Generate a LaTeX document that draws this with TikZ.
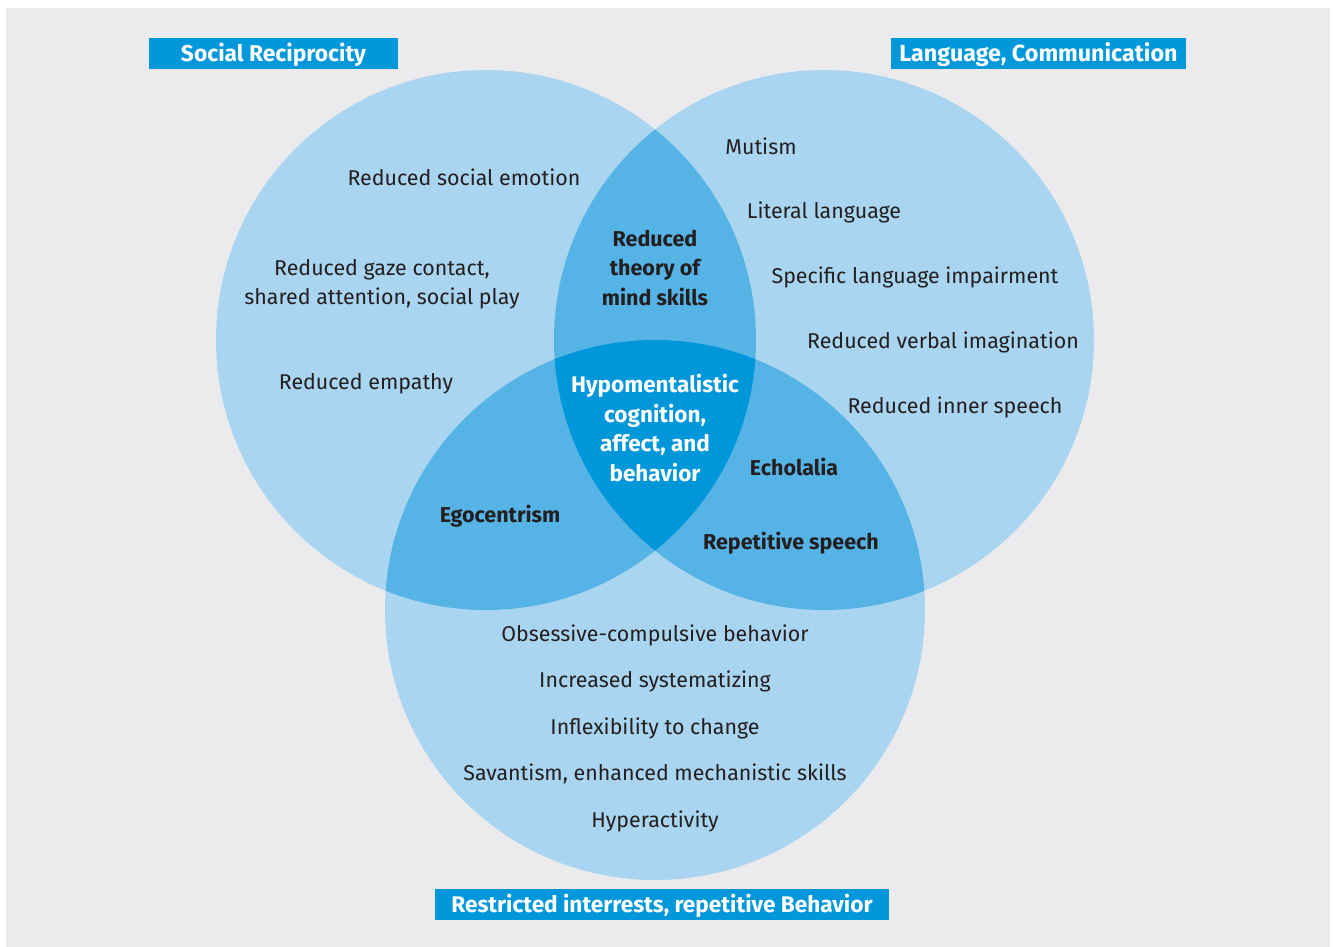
\documentclass[tikz,border=0pt]{standalone}
\usepackage{fontspec}
\setmainfont{Fira Sans}
\definecolor{bggray}{HTML}{EBEBED}
\definecolor{light}{HTML}{A9D5F0}
\definecolor{mid}{HTML}{55B3E6}
\definecolor{dark}{HTML}{0096DA}
\definecolor{boxblue}{HTML}{0098DB}
\definecolor{txt}{HTML}{231F20}
\tikzset{
  body/.style={text=txt, align=center, font=\fontsize{21.4}{29}\selectfont, inner sep=0pt},
  bold/.style={body, font=\fontsize{21.5}{29.4}\selectfont\bfseries},
  whitebold/.style={bold, text=white},
  tag/.style={fill=boxblue, text=white, font=\fontsize{22.8}{26}\selectfont\bfseries, inner sep=0pt, text height=23.5pt, text depth=7.5pt}
}
\begin{document}
\begin{tikzpicture}[x=1pt,y=-1pt]
\useasboundingbox (0,0) rectangle (1335,947);
\fill[white] (0,0) rectangle (1335,947);
\fill[bggray] (6,8) rectangle (1330,947);
% circles
\coordinate (L) at (486,340);
\coordinate (R) at (824,340);
\coordinate (B) at (655,610);
\fill[light] (L) circle[radius=270pt];
\fill[light] (R) circle[radius=270pt];
\fill[light] (B) circle[radius=270pt];
\begin{scope}
  \clip (L) circle[radius=270pt];
  \fill[mid] (R) circle[radius=270pt];
  \fill[mid] (B) circle[radius=270pt];
\end{scope}
\begin{scope}
  \clip (R) circle[radius=270pt];
  \fill[mid] (B) circle[radius=270pt];
\end{scope}
\begin{scope}
  \clip (L) circle[radius=270pt];
  \clip (R) circle[radius=270pt];
  \fill[dark] (B) circle[radius=270pt];
\end{scope}
% tags
\node[tag, minimum width=249pt] (t1) at (273.5,53.5) {Social Reciprocity};
\node[tag, minimum width=295pt, font=\fontsize{23.3}{26}\selectfont\bfseries] (t2) at (1038.5,53.5) {Language, Communication};
\node[tag, minimum width=454pt, font=\fontsize{22.6}{26}\selectfont\bfseries] (t3) at (662,904.5) {Restricted interrests, repetitive Behavior};
% left
\node[body] (l1) at (464,177) {Reduced social emotion};
\node[body] (l2) at (382,284) {Reduced gaze contact,\\shared attention, social play};
\node[body] (l3) at (366,384) {Reduced empathy};
% right
\node[body] (r1) at (761,146) {Mutism};
\node[body] (r2) at (824,212) {Literal language};
\node[body] (r3) at (915,277) {Specific language impairment};
\node[body] (r4) at (943,342) {Reduced verbal imagination};
\node[body] (r5) at (955,407) {Reduced inner speech};
% intersections
\node[bold] (i1) at (655,268) {Reduced\\theory of\\mind skills};
\node[whitebold, font=\fontsize{22.5}{29.4}\selectfont\bfseries] (i2) at (655,428) {Hypomentalistic\\cognition,\\affect, and\\behavior};
\node[bold] (i3) at (794,467) {Echolalia};
\node[bold] (i4) at (791,543) {Repetitive speech};
\node[bold] (i5) at (500,516) {Egocentrism};
% bottom
\node[body] (b1) at (655,635) {Obsessive-compulsive behavior};
\node[body] (b2) at (655,681) {Increased systematizing};
\node[body] (b3) at (655,728) {Inflexibility to change};
\node[body] (b4) at (655,774) {Savantism, enhanced mechanistic skills};
\node[body] (b5) at (655,821) {Hyperactivity};
\end{tikzpicture}
\end{document}
